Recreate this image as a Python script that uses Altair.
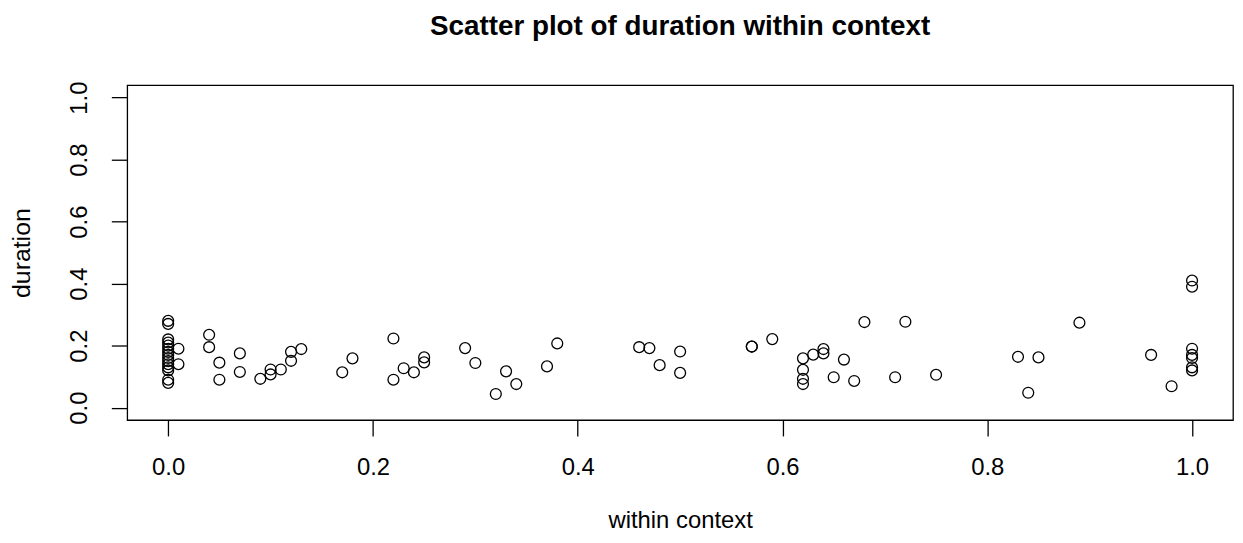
import altair as alt
import pandas as pd

within_context = [
    0.00, 0.00, 0.00, 0.00, 0.00, 0.00, 0.00, 0.00, 0.00, 0.00, 0.00, 0.00, 0.00, 0.00, 0.00,
    0.01, 0.01,
    0.04, 0.04,
    0.05, 0.05,
    0.07, 0.07,
    0.09,
    0.10, 0.10,
    0.11,
    0.12, 0.12,
    0.13,
    0.17,
    0.18,
    0.22, 0.22,
    0.23,
    0.24,
    0.25, 0.25,
    0.29,
    0.30,
    0.32,
    0.33,
    0.34,
    0.37,
    0.38,
    0.46,
    0.47,
    0.48,
    0.50, 0.50,
    0.57, 0.57,
    0.59,
    0.62, 0.62, 0.62, 0.62,
    0.63,
    0.64, 0.64,
    0.65,
    0.66,
    0.67,
    0.68,
    0.71,
    0.72,
    0.75,
    0.83,
    0.84,
    0.85,
    0.89,
    0.96,
    0.98,
    1.00, 1.00, 1.00, 1.00, 1.00, 1.00, 1.00,
]

duration = [
    0.28, 0.27, 0.22, 0.21, 0.20, 0.19, 0.18, 0.17, 0.16, 0.15, 0.14, 0.13, 0.12, 0.09, 0.08,
    0.19, 0.14,
    0.235, 0.195,
    0.145, 0.09,
    0.175, 0.115,
    0.093,
    0.123, 0.107,
    0.123,
    0.18, 0.151,
    0.189,
    0.114,
    0.159,
    0.223, 0.09,
    0.127,
    0.114,
    0.162, 0.146,
    0.192,
    0.144,
    0.044,
    0.117,
    0.076,
    0.133,
    0.207,
    0.195,
    0.192,
    0.137,
    0.181, 0.112,
    0.197, 0.197,
    0.221,
    0.159, 0.122, 0.093, 0.076,
    0.171,
    0.189, 0.175,
    0.098,
    0.155,
    0.086,
    0.276,
    0.098,
    0.277,
    0.106,
    0.164,
    0.048,
    0.162,
    0.274,
    0.170,
    0.069,
    0.41, 0.39, 0.19, 0.17, 0.16, 0.13, 0.12,
]

ticks = [0.0, 0.2, 0.4, 0.6, 0.8, 1.0]

df = pd.DataFrame({"within context": within_context, "duration": duration})

FONT = "Liberation Sans"

chart = (
    alt.Chart(df)
    .mark_point(shape="circle", filled=False, stroke="black", strokeWidth=1.3, size=120, opacity=1)
    .encode(
        x=alt.X(
            "within context:Q",
            scale=alt.Scale(domain=[-0.04, 1.04], nice=False, zero=False),
            axis=alt.Axis(
                values=ticks, format=".1f", title="within context",
                titlePadding=29, titleFontSize=24, labelPadding=20,
            ),
        ),
        y=alt.Y(
            "duration:Q",
            scale=alt.Scale(domain=[-0.04, 1.04], nice=False, zero=False),
            axis=alt.Axis(
                values=ticks, format=".1f", title="duration",
                labelAngle=270, labelAlign="center", labelBaseline="bottom",
                labelPadding=20, titlePadding=33,
            ),
        ),
    )
    .properties(
        width=1113,
        height=337,
        title=alt.TitleParams(
            "Scatter plot of duration within context",
            font=FONT, fontSize=28, fontWeight="bold", color="black",
            anchor="middle", offset=40,
        ),
        autosize=alt.AutoSizeParams(type="none"),
        padding={"left": 120, "top": 76, "right": 2, "bottom": 114},
    )
    .configure_view(stroke="black", strokeWidth=1.3)
    .configure_axis(
        domain=False, grid=False,
        tickColor="black", tickSize=16, tickWidth=1.3,
        labelColor="black", labelFont=FONT, labelFontSize=24,
        titleColor="black", titleFont=FONT, titleFontSize=25, titleFontWeight="normal",
    )
)

chart.save("out.html", embed_options={"renderer": "svg", "actions": False})
